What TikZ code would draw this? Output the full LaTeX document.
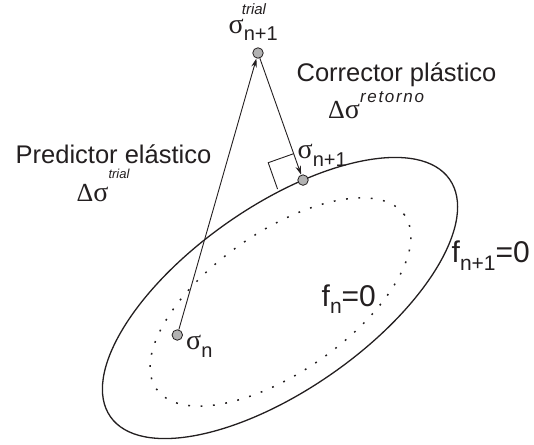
\documentclass[tikz,border=0pt]{standalone}
\usepackage{fontspec}
\setmainfont{Liberation Sans}
\newfontfamily\gk{Liberation Serif}
\usetikzlibrary{calc,arrows.meta}
\definecolor{ink}{RGB}{35,31,32}
\newcommand\fsz[1]{\fontsize{#1}{#1}\selectfont}
\begin{document}
\begin{tikzpicture}[x=1pt,y=1pt,
  lbl/.style={inner sep=0pt,anchor=base west,text=ink},
  ctr/.style={inner sep=0pt,anchor=base,text=ink},
  pt/.style={circle,draw=ink,fill=gray!60,line width=0.8pt,minimum size=10.5pt,inner sep=0pt},
  arr/.style={draw=ink,line width=0.9pt,-{Stealth[length=9pt,width=5.5pt]}},
  surf/.style={draw=ink,line width=1.3pt},
  oldsurf/.style={draw=ink,line width=1.5pt,dash pattern=on 1.8pt off 10.6pt}]
\useasboundingbox (0,0) rectangle (534,-444);
% yield surfaces
\draw[surf,shift={(280,-298)},rotate=35] (0,0) ellipse [x radius=207, y radius=91.8];
\draw[oldsurf,shift={(280.5,-302)},rotate=35] (0,0) ellipse [x radius=151.5, y radius=70];
\path[shift={(280,-298)},rotate=35] (65.3:207 and 91.8) coordinate (s1);
% points
\node[pt] (sn) at (177.3,-335) {};
\node[pt] (st) at (258,-53) {};
\node[pt] (s1n) at (s1) {};
% arrows
\draw[arr] (sn) -- (st);
\draw[arr] (st) -- (s1n);
% right angle marker
\coordinate (ra) at ($(s1)!28pt!(st)$);
\coordinate (rb) at ($(ra)!27pt!-90:(s1)$);
\coordinate (rc) at ($(s1)!27pt!90:(ra)$);
\draw[draw=ink,line width=0.9pt] (ra) -- (rb) -- (rc);
% labels
\node[lbl] (ltr) at (241.7,-15) {\fsz{15}\itshape trial};
\node[lbl] (lst) at (228.5,-34) {{\gk\fsz{28}σ}\raisebox{-7pt}{\fsz{20}n+1}};
\node[lbl] (ls1) at (297.5,-158.3) {{\gk\fsz{28}σ}\raisebox{-8.4pt}{\fsz{20}n+1}};
\node[lbl] (lsn) at (186,-349) {{\gk\fsz{28}σ}\raisebox{-8pt}{\fsz{20}n}};
\node[ctr] (pred) at (113.5,-163.3) {\fsz{25.5}Predictor elástico};
\node[lbl] (dpred) at (76.5,-201.7) {{\gk\fsz{26}Δ\fsz{28}σ}\raisebox{23pt}{\fsz{13}\itshape trial}};
\node[ctr] (corr) at (396.5,-81.7) {\fsz{25.5}Corrector plástico};
\node[lbl] (dcorr) at (328,-118) {{\gk\fsz{26}Δ\fsz{28}σ}\raisebox{16pt}{\fsz{17}\addfontfeatures{LetterSpace=10}\itshape retorno}};
\node[lbl] (f1) at (451.5,-262) {\fsz{30}f\raisebox{-8pt}{\fsz{21}n+1}=0};
\node[lbl] (f0) at (321.5,-306.7) {\fsz{30}f\raisebox{-6.7pt}{\fsz{21}n}=0};
\end{tikzpicture}
\end{document}
